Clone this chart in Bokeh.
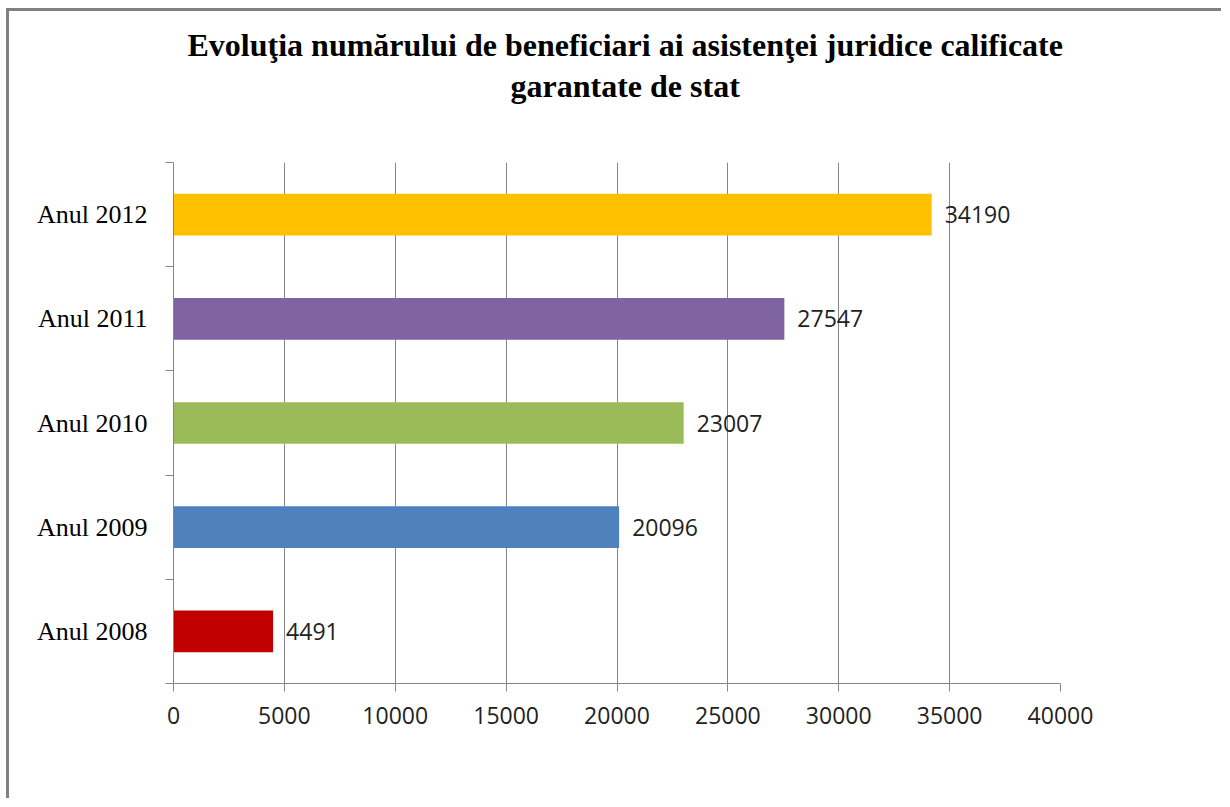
from bokeh.plotting import figure
from bokeh.models import (ColumnDataSource, FixedTicker, LabelSet, Title, Range1d)
from bokeh.core.properties import value
from bokeh.embed import file_html
from bokeh.resources import INLINE

# ---- data ----
categories = ["Anul 2008", "Anul 2009", "Anul 2010", "Anul 2011", "Anul 2012"]
values = [4491, 20096, 23007, 27547, 34190]
colors = ["#C00000", "#4F81BD", "#9BBB59", "#8064A2", "#FFC000"]
x_ticks = [0, 5000, 10000, 15000, 20000, 25000, 30000, 35000, 40000]
title_lines = ["Evoluţia numărului de beneficiari ai asistenţei juridice calificate",
               "garantate de stat"]

W, H = 1215, 790
BL, BR, BB, BT = 164, 164, 118, 151

ypos = [i + 0.5 for i in range(len(categories))]
source = ColumnDataSource(dict(y=ypos, v=values, c=colors,
                               lbl=[str(v) for v in values]))

p = figure(width=W, height=H, output_backend="svg", toolbar_location=None,
           x_range=Range1d(0, 40000), y_range=Range1d(0, len(categories)),
           min_border_left=BL, min_border_right=BR, min_border_bottom=BB,
           min_border_top=BT)
p.styles = {"border-left": "3px solid #808080", "border-top": "3px solid #808080",
            "margin-left": "6px", "margin-top": "8px"}
p.outline_line_color = None
p.background_fill_color = "white"
p.border_fill_color = "white"

p.hbar(y="y", right="v", left=0, height=0.4, color="c", line_color=None, source=source)

labels = LabelSet(x="v", y="y", text="lbl", source=source, x_offset=13,
                  text_baseline="middle", text_align="left",
                  text_font=value("Open Sans"), text_font_size="23px",
                  text_color="#222222")
p.add_layout(labels)

# x axis
xa = p.xaxis[0]
xa.ticker = FixedTicker(ticks=x_ticks)
xa.axis_line_color = "#868686"
xa.major_tick_line_color = "#868686"
xa.major_tick_out = 8
xa.major_tick_in = 0
xa.minor_tick_line_color = None
xa.major_label_text_font = "Open Sans"
xa.major_label_text_font_size = "23px"
xa.major_label_text_color = "#222222"
xa.major_label_standoff = 15

# y axis
ya = p.yaxis[0]
ya.ticker = FixedTicker(ticks=ypos, minor_ticks=list(range(len(categories) + 1)))
ya.major_label_overrides = {y: c for y, c in zip(ypos, categories)}
ya.axis_line_color = "#868686"
ya.major_tick_line_color = None
ya.major_tick_out = 0
ya.major_tick_in = 0
ya.minor_tick_line_color = "#868686"
ya.minor_tick_out = 8
ya.minor_tick_in = 0
ya.major_label_text_font = "Liberation Serif"
ya.major_label_text_font_size = "26px"
ya.major_label_text_color = "#000000"
ya.major_label_standoff = 18

p.xgrid.grid_line_color = "#868686"
p.xgrid.ticker = FixedTicker(ticks=x_ticks)
p.ygrid.grid_line_color = None

# title: spacer next to the frame, then line 2, then line 1
p.title = None
title_style = dict(text_font="Liberation Serif", text_font_style="bold",
                   text_font_size="32px", text_color="#000000", align="left")
spacer = Title(text=" ", standoff=19, **title_style)
t2 = Title(text=title_lines[1], offset=337, standoff=3, **title_style)
t1 = Title(text=title_lines[0], offset=14, standoff=3, **title_style)
p.add_layout(spacer, "above")
p.add_layout(t2, "above")
p.add_layout(t1, "above")

open("out.html", "w").write(file_html(p, INLINE))
